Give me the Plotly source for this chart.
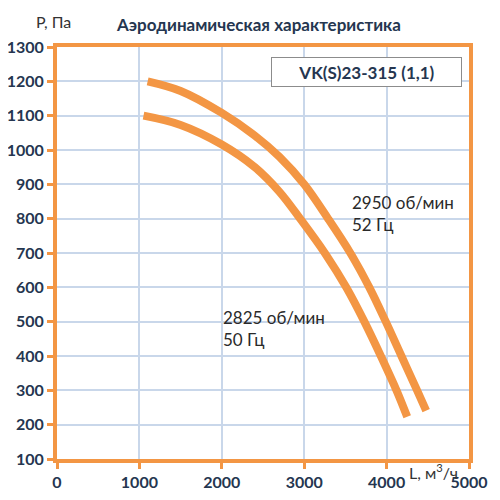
#!/usr/bin/env python3
"""
Aerodynamic characteristic of VK(S)23-315 fan
"""

import plotly.graph_objects as go

# 2950 rpm / 52 Hz curve
flow_52 = [1100, 1500, 2000, 2400, 2700, 3000, 3290, 3560, 3790, 3990, 4180, 4370, 4480]
pressure_52 = [1200, 1172, 1108, 1042, 980, 900, 800, 700, 600, 500, 400, 300, 241]

# 2825 rpm / 50 Hz curve
flow_50 = [1050, 1500, 2000, 2400, 2700, 2950, 3250, 3510, 3730, 3930, 4120, 4250]
pressure_50 = [1100, 1073, 1016, 950, 878, 800, 700, 600, 500, 400, 300, 223]

x_ticks = [0, 1000, 2000, 3000, 4000, 5000]
y_ticks = list(range(100, 1400, 100))

ORANGE = '#F39644'
NAVY = '#253650'
GRID = '#C9D7EA'
FONT = 'Lato'


def create_chart():
    fig = go.Figure()

    for x, y in [(flow_52, pressure_52), (flow_50, pressure_50)]:
        fig.add_trace(go.Scatter(
            x=x, y=y,
            mode='lines',
            line=dict(color=ORANGE, width=8, shape='spline', smoothing=1.0),
            showlegend=False,
            hoverinfo='skip'
        ))

    # Curve labels
    fig.add_annotation(x=3550, y=815, text='2950 об/мин<br>52 Гц',
                       showarrow=False, xanchor='left', yanchor='middle', align='left',
                       font=dict(family=FONT, size=17, color='#2a2a2a'))
    fig.add_annotation(x=1990, y=480, text='2825 об/мин<br>50 Гц',
                       showarrow=False, xanchor='left', yanchor='middle', align='left',
                       font=dict(family=FONT, size=17, color='#2a2a2a'))

    # Model box
    fig.add_annotation(xref='paper', yref='paper', x=0.983, y=0.976,
                       text='<b>VK(S)23-315 (1,1)</b>', showarrow=False,
                       xanchor='right', yanchor='top',
                       width=185, height=24, borderpad=2,
                       bgcolor='white', bordercolor='#8c8c8c', borderwidth=1,
                       font=dict(family=FONT, size=17, color=NAVY))

    # Title and axis names
    fig.add_annotation(xref='paper', yref='paper', x=0.49, y=1.025,
                       text='<b>Аэродинамическая характеристика</b>', showarrow=False,
                       xanchor='center', yanchor='bottom',
                       font=dict(family=FONT, size=17, color=NAVY))
    fig.add_annotation(xref='paper', yref='paper', x=-0.055, y=1.035,
                       text='P, Па', showarrow=False,
                       xanchor='left', yanchor='bottom',
                       font=dict(family=FONT, size=16, color='#333333'))
    fig.add_annotation(xref='paper', yref='paper', x=0.85, y=0.0,
                       text='L, м<sup>3</sup>/ч', showarrow=False,
                       xanchor='left', yanchor='top',
                       font=dict(family=FONT, size=16, color='#333333'))

    fig.update_xaxes(
        range=[0, 5000], tickvals=x_ticks, automargin=False,
        showgrid=True, gridcolor=GRID, gridwidth=1.5,
        showline=True, linecolor=ORANGE, linewidth=4, mirror=True,
        ticks='outside', ticklen=6, tickwidth=3, tickcolor=ORANGE,
        tickfont=dict(family=FONT, size=16, color=NAVY, weight='bold'),
        zeroline=False
    )
    fig.update_yaxes(
        range=[100, 1300], tickvals=y_ticks, automargin=False,
        showgrid=True, gridcolor=GRID, gridwidth=1.5,
        showline=True, linecolor=ORANGE, linewidth=4, mirror=True,
        ticks='outside', ticklen=6, tickwidth=3, tickcolor=ORANGE,
        tickfont=dict(family=FONT, size=16, color=NAVY, weight='bold'),
        zeroline=False
    )

    # page body adds an 8px offset, so margins are shifted to compensate
    fig.update_layout(
        width=500, height=500,
        margin=dict(l=49, r=39, t=39, b=49),
        plot_bgcolor='white', paper_bgcolor='white'
    )
    return fig


if __name__ == '__main__':
    fig = create_chart()
    fig.write_html('out.html')
